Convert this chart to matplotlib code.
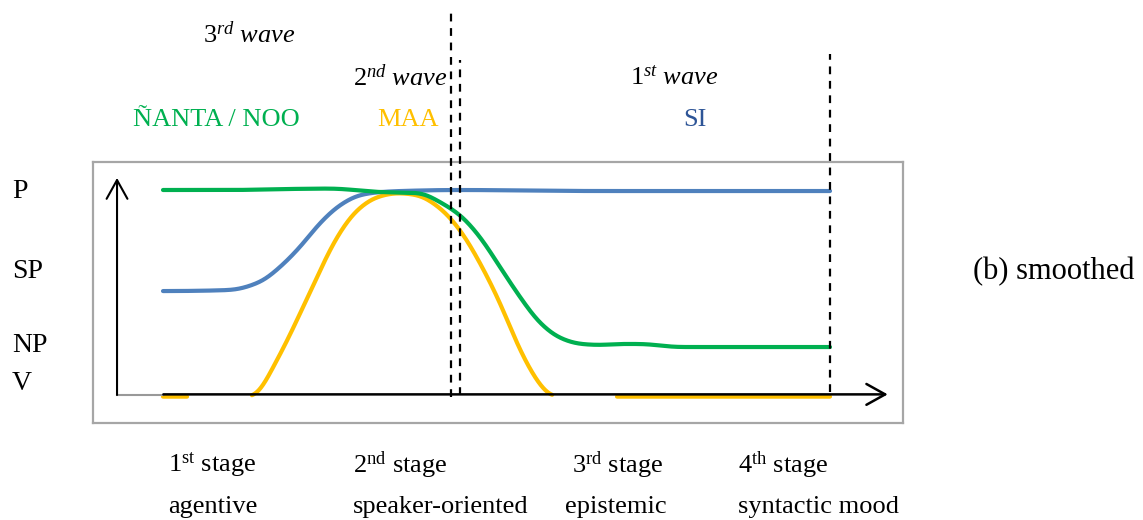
import numpy as np
import matplotlib
matplotlib.use("Agg")
import matplotlib.pyplot as plt
from matplotlib.patches import FancyArrowPatch

plt.rcParams['font.family'] = ['Liberation Serif', 'DejaVu Serif']
plt.rcParams['mathtext.fontset'] = 'custom'
plt.rcParams['mathtext.rm'] = 'Liberation Serif'
plt.rcParams['mathtext.it'] = 'Liberation Serif:italic'

# ---- data (time t: 0..100, level v: V=0 .. P=100) ----
green_t = [6.45, 15.85, 24.26, 29.87, 36.89, 42.50, 45.30, 48.11, 50.91, 53.72, 56.52, 59.33,
           62.13, 64.94, 67.74, 70.55, 73.35, 78.96, 100]
green_v = [100, 100, 100.5, 100.7, 99.0, 98.5, 94.1, 87.8, 77.1, 62.4, 47.8, 35.1,
           27.8, 24.9, 24.4, 24.9, 24.9, 23.4, 23.4]

blue_t = [6.45, 15.85, 20.06, 22.86, 25.67, 28.47, 31.28, 34.08, 36.89, 39.69, 47.69, 67.74, 100]
blue_v = [50.7, 51.2, 55.1, 62.4, 72.2, 83.9, 92.7, 97.6, 99.0, 99.5, 100, 99.5, 99.5]

yellow_t = [6.45, 9.82, np.nan, 18.93, 22.44, 25.25, 28.05, 30.86, 33.66, 36.47, 39.27, 42.08,
            45.30, 48.11, 50.91, 53.72, 56.52, 59.33, 61.01, np.nan, 70.13, 100]
yellow_v = [-0.8, -0.8, np.nan, -1.0, 17.1, 36.6, 57.6, 77.1, 90.2, 96.6, 98.5, 97.6,
            91.2, 80.5, 64.4, 44.9, 22.0, 4.9, -0.8, np.nan, -0.8, -0.8]

level_labels = ['P', 'SP', 'NP', 'V']
stage_labels = [r'1$^{\mathrm{st}}$ stage', r'2$^{\mathrm{nd}}$ stage', r'3$^{\mathrm{rd}}$ stage', r'4$^{\mathrm{th}}$ stage']
stage_names = ['agentive', 'speaker-oriented', 'epistemic', 'syntactic mood']
wave_labels = [r'$\mathit{3^{rd}\ wave}$', r'$\mathit{2^{nd}\ wave}$', r'$\mathit{1^{st}\ wave}$']
marker_labels = ['ÑANTA / NOO', 'MAA', 'SI']
boundaries_t = [46.84, 48.11, 100]
boundaries_top = [187.8, 163.4, 166.3]
boundaries_bot = [-1.0, 0.0, 1.5]

GREEN = '#00B050'
BLUE = '#4F81BD'
YELLOW = '#FFC000'
SI_BLUE = '#2E5597'


def _pchip_segment(x, y, n=30):
    x = np.asarray(x, float)
    y = np.asarray(y, float)
    if len(x) < 3:
        return x, y
    h = np.diff(x)
    delta = np.diff(y) / h
    d = np.zeros_like(y)
    for k in range(1, len(x) - 1):
        if delta[k - 1] * delta[k] > 0:
            w1 = 2 * h[k] + h[k - 1]
            w2 = h[k] + 2 * h[k - 1]
            d[k] = (w1 + w2) / (w1 / delta[k - 1] + w2 / delta[k])
    xs, ys = [], []
    for k in range(len(x) - 1):
        u = np.linspace(0, 1, n, endpoint=False)
        h00 = 2 * u ** 3 - 3 * u ** 2 + 1
        h10 = u ** 3 - 2 * u ** 2 + u
        h01 = -2 * u ** 3 + 3 * u ** 2
        h11 = u ** 3 - u ** 2
        xs += list(x[k] + u * h[k])
        ys += list(h00 * y[k] + h10 * h[k] * d[k] + h01 * y[k + 1] + h11 * h[k] * d[k + 1])
    xs.append(x[-1])
    ys.append(y[-1])
    return np.array(xs), np.array(ys)


def _soften(xs, ys, sigma=0.9, step=0.05):
    if len(xs) < 3:
        return xs, ys
    tu = np.arange(xs[0], xs[-1] + step / 2, step)
    yu = np.interp(tu, xs, ys)
    half = int(4 * sigma / step)
    k = np.exp(-0.5 * (np.arange(-half, half + 1) * step / sigma) ** 2)
    k /= k.sum()
    yp = np.pad(yu, half, mode='edge')
    return tu, np.convolve(yp, k, mode='valid')


def smooth(t, v):
    """Smoothed-line rendering, NaN breaks kept."""
    t = np.asarray(t, float)
    v = np.asarray(v, float)
    idx = np.where(np.isnan(t))[0]
    starts = np.concatenate([[0], idx + 1])
    ends = np.concatenate([idx, [len(t)]])
    out_t, out_v = [], []
    for s, e in zip(starts, ends):
        xs, ys = _pchip_segment(t[s:e], v[s:e])
        xs, ys = _soften(xs, ys)
        out_t += list(xs) + [np.nan]
        out_v += list(ys) + [np.nan]
    return np.array(out_t), np.array(out_v)


W, H = 1143, 520
fig = plt.figure(figsize=(W / 100, H / 100), dpi=100)


def fx(px):
    return px / W


def fy(py):
    return 1 - py / H


# inner box axes (gray frame)
ax = fig.add_axes([fx(93), fy(423), fx(903) - fx(93), fy(162) - fy(423)])
ax.set_xlim(-3.37, 110.24)
ax.set_ylim(-13.66, 113.66)
ax.set_xticks([])
ax.set_yticks([])
for s in ax.spines.values():
    s.set_color('#A6A6A6')
    s.set_linewidth(1.6)

lw = 3.0
for tt, vv, col, z in [(yellow_t, yellow_v, YELLOW, 2), (blue_t, blue_v, BLUE, 3), (green_t, green_v, GREEN, 4)]:
    st, sv = smooth(tt, vv)
    ax.plot(st, sv, color=col, lw=lw, solid_capstyle='round', solid_joinstyle='round', zorder=z)

# axes arrows
ax.plot([0, 6.5], [0, 0], color='#999999', lw=1.5, zorder=4)
xa = FancyArrowPatch((6.5, 0.3), (108.1, 0.3), arrowstyle='->,head_length=0.9,head_width=0.5',
                     mutation_scale=15, color='black', lw=1.8, zorder=5, shrinkA=0, shrinkB=0)
ax.add_patch(xa)
ya = FancyArrowPatch((0, 0), (0, 105.9), arrowstyle='->,head_length=0.9,head_width=0.5',
                     mutation_scale=15, color='black', lw=1.5, zorder=5, shrinkA=0, shrinkB=0)
ax.add_patch(ya)

# dashed stage boundaries
for t, top, bot in zip(boundaries_t, boundaries_top, boundaries_bot):
    ax.plot([t, t], [bot, top], color='black', lw=1.6, ls=(0, (3.5, 3)), clip_on=False, zorder=6)

fs = 19
for lab, py in zip(level_labels, [192, 272, 345, 383]):
    fig.text(fx(12), fy(py), lab, fontsize=20, ha='left', va='center')

fig.text(fx(203), fy(35), wave_labels[0], fontsize=fs, ha='left', va='center')
fig.text(fx(353), fy(78), wave_labels[1], fontsize=fs, ha='left', va='center')
fig.text(fx(630), fy(78), wave_labels[2], fontsize=fs, ha='left', va='center')

fig.text(fx(133), fy(120), marker_labels[0], fontsize=fs, color=GREEN, ha='left', va='center')
fig.text(fx(377), fy(120), marker_labels[1], fontsize=fs, color=YELLOW, ha='left', va='center')
fig.text(fx(683), fy(120), marker_labels[2], fontsize=fs, color=SI_BLUE, ha='left', va='center')

fig.text(fx(973), fy(272), '(b) smoothed', fontsize=22, ha='left', va='center')

for lab, px in zip(stage_labels, [168, 353, 572, 738]):
    fig.text(fx(px), fy(465), lab, fontsize=fs, ha='left', va='center')
for lab, px in zip(stage_names, [168, 353, 565, 738]):
    fig.text(fx(px), fy(507), lab, fontsize=fs, ha='left', va='center')

fig.savefig('out.png', dpi=100)
